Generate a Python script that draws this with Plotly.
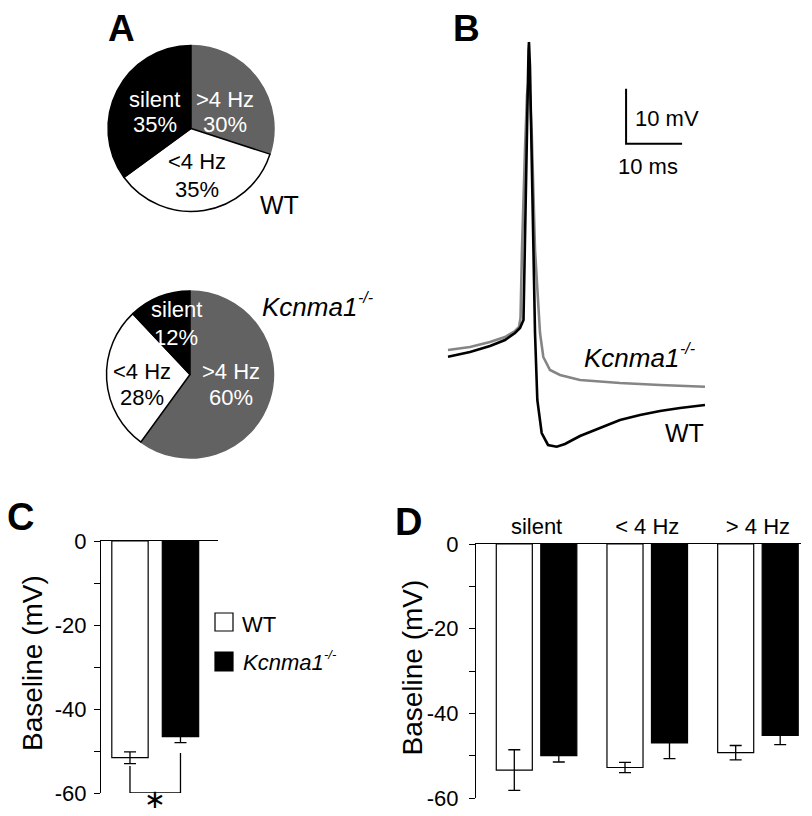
import plotly.graph_objects as go

# ---------------- data ----------------
pie_labels = [">4 Hz", "<4 Hz", "silent"]
wt_pct = [30, 35, 35]
ko_pct = [60, 28, 12]

# action potential traces (time in ms, membrane potential in mV)
t_wt = [0.0, 3.93, 7.5, 10.18, 11.96, 12.86, 13.48, 13.75, 14.11, 14.38, 14.46, 14.64, 15.13,
        15.54, 15.95, 16.73, 17.86, 19.41, 20.89, 23.57, 27.14, 30.71, 34.29, 37.86, 41.43, 45.89]
v_wt = [-52.0, -51.15, -50.05, -48.96, -47.69, -46.78, -45.33, -32.6, -10.78, 3.76, 5.22, 0.67, -23.5,
        -47.69, -59.87, -65.87, -68.05, -68.36, -67.87, -66.42, -64.96, -63.51, -62.6, -61.87, -61.33, -60.78]
t_ko = [0.0, 3.93, 7.5, 10.18, 11.96, 12.68, 12.95, 13.21, 13.75, 14.11, 14.38, 14.64, 14.95,
        15.54, 16.43, 17.02, 18.21, 20.0, 23.57, 30.71, 37.86, 45.89]
v_ko = [-50.78, -50.24, -49.33, -48.42, -47.33, -46.6, -44.96, -32.6, -14.4, -4.4, -2.04, -4.4, -11.3,
        -32.6, -47.69, -52.05, -54.42, -55.33, -56.24, -56.78, -57.15, -57.45]
scale_ms = 10
scale_mv = 10

# panel C
c_groups = ["WT", "Kcnma1-/-"]
c_mean = [-51.6, -46.6]
c_sem = [1.4, 1.4]

# panel D
d_cats = ["silent", "< 4 Hz", "> 4 Hz"]
d_wt = [-53.4, -52.8, -49.3]
d_wt_err = [4.8, 1.2, 1.7]
d_ko = [-50.0, -47.0, -45.2]
d_ko_err = [1.5, 3.7, 2.2]

y_tickvals = [0, -20, -40, -60]
y_ticktext = ["0", "-20", "-40", "-60"]

# ---------------- layout helpers ----------------
W, H = 812, 816
FONT = "Liberation Sans, Arial, Helvetica, sans-serif"
GRAY = "#626262"


def fx(p):
    return p / W


def fy(p):
    return 1 - p / H


fig = go.Figure()
annotations = []
shapes = []


def ann(text, x, y, size, xanchor="center", yanchor="middle", color="black", bold=False,
        italic=False, angle=0):
    if italic:
        text = "<i>" + text + "</i>"
    if bold:
        text = "<b>" + text + "</b>"
    annotations.append(dict(text=text, x=fx(x), y=fy(y), xref="paper", yref="paper",
                            xanchor=xanchor, yanchor=yanchor, showarrow=False, textangle=angle,
                            font=dict(family=FONT, size=size, color=color)))


GENE = "Kcnma1"
GENO = "-/-"
GENE_EM = 3.668  # advance width of "Kcnma1" in em (Arial/Liberation Sans italic metrics)


def ko_label(x, y, size):
    """Italic gene name with a raised, smaller genotype text."""
    ann(GENE, x, y, size, xanchor="left", italic=True)
    ann(GENO, x + GENE_EM * size + 1, y - 0.36 * size, round(size * 0.6), xanchor="left", italic=True)


# ---------------- panel A: pies ----------------
pie_line_colors = [GRAY, "black", "black"]
pie_colors = [GRAY, "white", "black"]
for pct, (cx, cy, r) in [(wt_pct, (191, 128.5, 83)), (ko_pct, (190, 374.5, 83.5))]:
    fig.add_trace(go.Pie(labels=pie_labels, values=pct, sort=False, direction="clockwise",
                         rotation=0, textinfo="none", hoverinfo="label+percent", automargin=False,
                         marker=dict(colors=pie_colors, line=dict(color=pie_line_colors, width=1.5)),
                         domain=dict(x=[fx(cx - r), fx(cx + r)], y=[fy(cy + r), fy(cy - r)]),
                         showlegend=False))

# pie labels (label line, percent line)
wt_pos = {">4 Hz": (225, 99, 124), "<4 Hz": (196.7, 162, 189), "silent": (154.5, 99, 124)}
ko_pos = {">4 Hz": (230.5, 372, 397), "<4 Hz": (142, 372, 397), "silent": (176, 309, 337)}
txtcol = {">4 Hz": "white", "<4 Hz": "black", "silent": "white"}
for pct, pos in [(wt_pct, wt_pos), (ko_pct, ko_pos)]:
    for lab, v in zip(pie_labels, pct):
        x, y1, y2 = pos[lab]
        ann(lab, x, y1, 22, color=txtcol[lab])
        ann(f"{v}%", x, y2, 22, color=txtcol[lab])

ann("WT", 279, 205, 25)
ko_label(260, 307, 26)
ann("A", 121, 29, 37, bold=True)

# ---------------- panel B: traces ----------------
fig.add_trace(go.Scatter(x=t_ko, y=v_ko, mode="lines", line=dict(color="#858585", width=2.6),
                         xaxis="x", yaxis="y", showlegend=False))
fig.add_trace(go.Scatter(x=t_wt, y=v_wt, mode="lines", line=dict(color="black", width=2.6),
                         xaxis="x", yaxis="y", showlegend=False))
sb_t, sb_v = 31.8, -13.3
fig.add_trace(go.Scatter(x=[sb_t, sb_t, sb_t + scale_ms], y=[sb_v + scale_mv, sb_v, sb_v],
                         mode="lines", line=dict(color="black", width=2), xaxis="x", yaxis="y",
                         showlegend=False, hoverinfo="skip"))
ann(f"{scale_mv} mV", 633, 118.5, 22, xanchor="left")
ann(f"{scale_ms} ms", 648, 167, 22)
ko_label(581.7, 357.5, 26)
ann("WT", 663, 432.5, 25, xanchor="left")
ann("B", 466, 29, 37, bold=True)

# ---------------- panel C ----------------
fig.add_trace(go.Bar(x=c_groups, y=c_mean, width=0.72,
                     marker=dict(color=["white", "black"], line=dict(color="black", width=1.2)),
                     error_y=dict(type="data", array=c_sem, color="black", thickness=1.3, width=6),
                     xaxis="x2", yaxis="y2", showlegend=False))
# significance bracket
fig.add_trace(go.Scatter(x=[c_groups[0], c_groups[0], c_groups[1], c_groups[1]],
                         y=[c_mean[0] - c_sem[0] - 0.6, -60, -60, c_mean[1] - c_sem[1] - 2.5],
                         mode="lines", line=dict(color="black", width=1.3), cliponaxis=False,
                         xaxis="x2", yaxis="y2", showlegend=False, hoverinfo="skip"))
ann("\u2217", 155, 816, 26, yanchor="bottom")
ann("Baseline (mV)", 32, 663, 28, angle=-90)
ann("C", 20, 517, 38, bold=True)
# legend
shapes.append(dict(type="rect", xref="paper", yref="paper", x0=fx(215), x1=fx(233), y0=fy(631), y1=fy(613),
                   fillcolor="white", line=dict(color="black", width=1.2)))
shapes.append(dict(type="rect", xref="paper", yref="paper", x0=fx(215), x1=fx(233), y0=fy(671), y1=fy(652),
                   fillcolor="black", line=dict(color="black", width=1.2)))
ann("WT", 239.5, 624, 22, xanchor="left")
ko_label(240.5, 662, 22)

# ---------------- panel D ----------------
fig.add_trace(go.Bar(x=d_cats, y=d_wt, name="WT",
                     marker=dict(color="white", line=dict(color="black", width=1.2)),
                     error_y=dict(type="data", array=d_wt_err, color="black", thickness=1.3, width=6),
                     xaxis="x3", yaxis="y3", showlegend=False))
fig.add_trace(go.Bar(x=d_cats, y=d_ko, name="Kcnma1-/-",
                     marker=dict(color="black", line=dict(color="black", width=1.2)),
                     error_y=dict(type="data", array=d_ko_err, color="black", thickness=1.3, width=6),
                     xaxis="x3", yaxis="y3", showlegend=False))
ann("Baseline (mV)", 411.5, 668, 28, angle=-90)
ann("D", 408, 522, 38, bold=True)

# ---------------- axes ----------------
tickfont = dict(family=FONT, size=22, color="black")
hidden = dict(visible=False, showgrid=False, zeroline=False, fixedrange=True, automargin=False)

yax_common = dict(range=[-60, 0], showline=True, linecolor="black", linewidth=1.3, ticks="outside",
                  ticklen=6, tickwidth=1.3, tickcolor="black", tickvals=y_tickvals, ticktext=y_ticktext,
                  minor=dict(dtick=10, tick0=0, ticks="outside", ticklen=6, tickwidth=1.3,
                             tickcolor="black", showgrid=False),
                  tickfont=tickfont, showgrid=False, zeroline=False, automargin=False)

fig.update_layout(
    width=W, height=H, autosize=False,
    margin=dict(l=0, r=0, t=0, b=0, pad=0, autoexpand=False),
    paper_bgcolor="white", plot_bgcolor="rgba(0,0,0,0)",
    barmode="group", bargap=0.196, bargroupgap=0.19,
    showlegend=False,
    xaxis=dict(domain=[fx(440), fx(720)], range=[(440 - 448) / 5.6, (720 - 448) / 5.6], **hidden),
    yaxis=dict(domain=[fy(460), fy(30)], range=[-52 - (460 - 356.7) / 5.5, -52 - (30 - 356.7) / 5.5],
               **hidden),
    xaxis2=dict(domain=[fx(101), fx(218)], range=[-0.574, 1.743], side="top", anchor="y2",
                showline=True, linecolor="black", linewidth=1.3, ticks="", showticklabels=False,
                showgrid=False, zeroline=False, automargin=False),
    yaxis2=dict(domain=[fy(793), fy(541)], anchor="x2", ticklabelstandoff=3, **yax_common),
    xaxis3=dict(domain=[fx(476), fx(801)], range=[-0.547, 2.389], side="top", anchor="y3",
                showline=True, linecolor="black", linewidth=1.3, ticks="", tickfont=tickfont,
                ticklabelstandoff=0, showgrid=False, zeroline=False, automargin=False),
    yaxis3=dict(domain=[fy(798), fy(544)], anchor="x3", ticklabelstandoff=6, **yax_common),
    annotations=annotations,
    shapes=shapes,
)

fig.write_html("out.html", config={"displayModeBar": False},
               post_script="document.body.style.margin='0';document.body.style.overflow='hidden';")
